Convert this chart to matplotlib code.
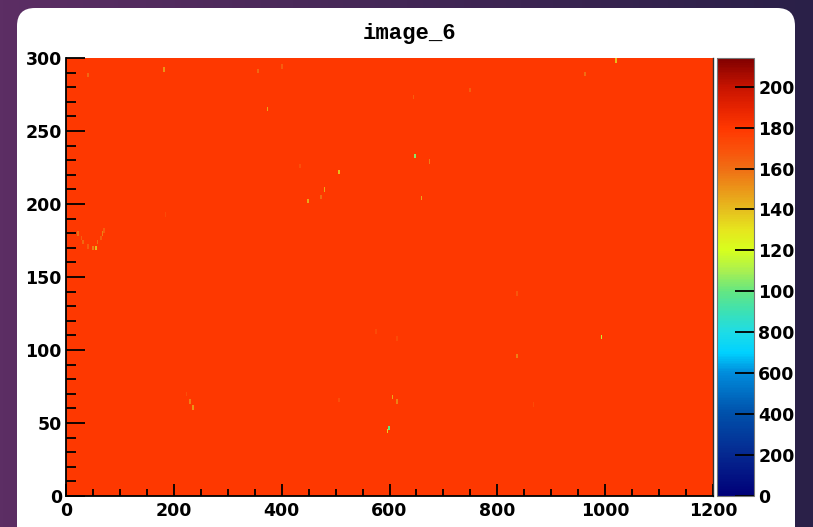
import numpy as np
import matplotlib
matplotlib.use('Agg')
import matplotlib.pyplot as plt
from matplotlib.colors import LinearSegmentedColormap
from matplotlib.patches import FancyBboxPatch
from matplotlib.ticker import MultipleLocator

title = 'image_6'
x_range = (0, 1200)
y_range = (0, 300)
z_max = 2140
bg_level = 1790

# bright spots in the image (x, y, value)
speck_x = [373, 642, 645, 673, 506, 478, 473, 447, 658, 432,
           22, 27, 32, 40, 48, 54, 59, 63, 67, 70,
           230, 236, 224, 506, 605, 612, 597, 596,
           1018, 962, 747, 836, 990, 836, 864,
           39, 182, 354, 399, 573, 612, 184]
speck_y = [264, 272, 232, 228, 221, 209, 204, 201, 203, 225,
           179, 176, 173, 170, 169, 169, 173, 176, 179, 181,
           64, 60, 69, 65, 67, 64, 46, 44,
           297, 288, 277, 138, 108, 95, 62,
           287, 291, 290, 293, 112, 107, 192]
speck_z = [1450, 1650, 1050, 1550, 1400, 1450, 1600, 1450, 1450, 1700,
           1600, 1650, 1620, 1650, 1550, 1400, 1600, 1650, 1550, 1650,
           1550, 1500, 1700, 1700, 1450, 1550, 1000, 1350,
           1400, 1600, 1650, 1680, 1150, 1550, 1720,
           1620, 1500, 1620, 1650, 1720, 1720, 1720]

cbar_ticks = [0, 200, 400, 600, 800, 1000, 1200, 1400, 1600, 1800, 2000]
cbar_labels = ['0', '200', '400', '600', '800', '100', '120', '140', '160', '180', '200']

# ROOT-like rainbow palette
pal_pos = [0, 200, 400, 600, 700, 800, 900, 1000, 1100, 1200, 1300, 1400,
           1500, 1600, 1700, 1800, 1900, 2000, 2140]
pal_col = ['#000078', '#052890', '#0050aa', '#008cdc', '#00d2ff', '#1edce6',
           '#3ce1b4', '#64e682', '#aaf050', '#d7ff1e', '#e6e61e', '#e6be1e',
           '#eb9619', '#f06e14', '#fa500a', '#ff3700', '#e62300', '#c81400',
           '#800000']
cmap = LinearSegmentedColormap.from_list(
    'rootpal', list(zip([p / z_max for p in pal_pos], pal_col)))

nx, ny = 400, 300
dx = (x_range[1] - x_range[0]) / nx
dy = (y_range[1] - y_range[0]) / ny
img = np.full((ny, nx), float(bg_level))
for x, y, z in zip(speck_x, speck_y, speck_z):
    c = int(x / dx)
    r = int(y / dy)
    img[r - 1:r + 2, c] = z

fig = plt.figure(figsize=(8.13, 5.27), dpi=100)
W, H = 813, 527

# purple window background + white rounded panel
bg = fig.add_axes([0, 0, 1, 1])
grad = np.linspace(0, 1, 256)[None, :]
bg.imshow(grad, aspect='auto', extent=[0, 1, 0, 1],
          cmap=LinearSegmentedColormap.from_list('bgp', ['#5c2e64', '#2a2048']))
bg.add_patch(FancyBboxPatch((17 / W, -0.05), (795 - 17) / W, (H - 8) / H + 0.05,
                            boxstyle='round,pad=0,rounding_size=0.022',
                            fc='white', ec='none', mutation_aspect=W / H))
bg.set_xlim(0, 1)
bg.set_ylim(0, 1)
bg.axis('off')

lab_font = dict(family='DejaVu Sans', weight='bold', size=12.5)

ax = fig.add_axes([66 / W, (H - 496) / H, (713 - 66) / W, (496 - 58) / H])
im = ax.imshow(img, origin='lower', aspect='auto', cmap=cmap, vmin=0, vmax=z_max,
               extent=[x_range[0], x_range[1], y_range[0], y_range[1]],
               interpolation='nearest')
ax.set_xlim(*x_range)
ax.set_ylim(*y_range)
ax.xaxis.set_major_locator(MultipleLocator(200))
ax.xaxis.set_minor_locator(MultipleLocator(50))
ax.yaxis.set_major_locator(MultipleLocator(50))
ax.yaxis.set_minor_locator(MultipleLocator(10))
ax.tick_params(axis='y', which='major', direction='in', length=14, width=1.3, color='black', pad=3)
ax.tick_params(axis='y', which='minor', direction='in', length=7, width=1.3, color='black')
ax.tick_params(axis='x', which='major', direction='in', length=9, width=1.3, color='black', pad=4)
ax.tick_params(axis='x', which='minor', direction='in', length=5, width=1.3, color='black')
for lab in ax.get_xticklabels() + ax.get_yticklabels():
    lab.set_fontfamily(lab_font['family'])
    lab.set_fontweight(lab_font['weight'])
    lab.set_fontsize(lab_font['size'])
ax.spines['top'].set_visible(False)
ax.spines['left'].set_linewidth(1.3)
ax.spines['bottom'].set_linewidth(1.3)
ax.spines['right'].set_linewidth(1.0)
ax.spines['right'].set_color('#333333')

cax = fig.add_axes([717 / W, (H - 496) / H, (754 - 717) / W, (496 - 58) / H])
cb = fig.colorbar(im, cax=cax)
cb.outline.set_edgecolor('#777777')
cb.outline.set_linewidth(0.8)
cb.set_ticks(cbar_ticks)
cb.set_ticklabels(cbar_labels)
cax.tick_params(direction='in', length=14, width=1.3, color='black', pad=3)
for lab in cax.get_yticklabels():
    lab.set_fontfamily(lab_font['family'])
    lab.set_fontweight(lab_font['weight'])
    lab.set_fontsize(lab_font['size'])

fig.text(410 / W, (H - 33) / H, title, ha='center', va='center',
         fontfamily='Liberation Mono', fontweight='bold', fontsize=16)

fig.savefig('out.png', dpi=100)
